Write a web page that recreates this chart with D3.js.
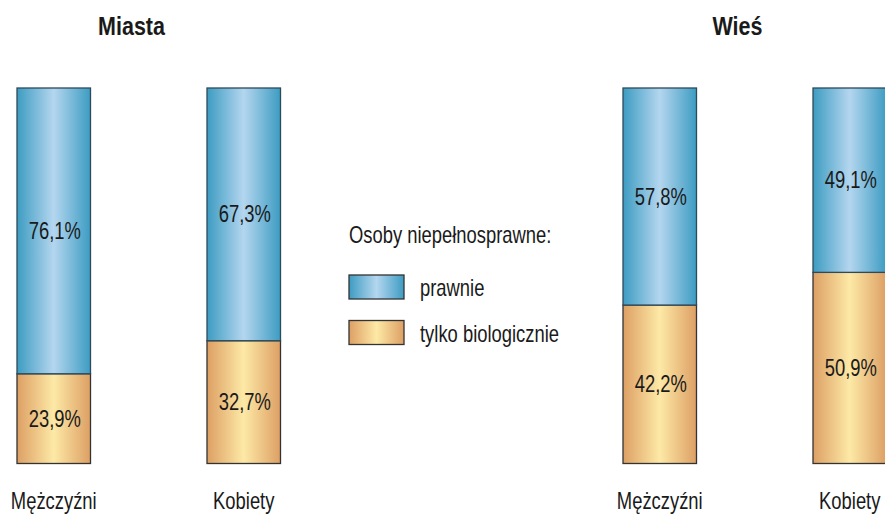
<!DOCTYPE html>
<html>
<head>
<meta charset="utf-8">
<script src="https://cdn.jsdelivr.net/npm/d3@7"></script>
<style>
  body { margin: 0; background: #fff; }
  text { font-family: "Liberation Sans Narrow", "Arial Narrow", "Liberation Sans", Arial, sans-serif; fill: #1a1a1a; }
</style>
</head>
<body>
<svg id="chart" width="885" height="514"></svg>
<script>
// data
var groups = ["Miasta", "Wieś"];
var genders = ["Mężczyźni", "Kobiety"];
var seriesNames = ["prawnie", "tylko biologicznie"];
var prawnie = [76.1, 67.3, 57.8, 49.1];       // Miasta M, Miasta K, Wieś M, Wieś K
var biologiczne = [23.9, 32.7, 42.2, 50.9];
var legendTitle = "Osoby niepełnosprawne:";

var svg = d3.select("#chart"),
    barW = 73.5,
    squeeze = 0.8;   // no narrow font installed, so squeeze a regular one

var x0 = d3.scalePoint().domain(groups).range([17, 623]);
var x1 = d3.scalePoint().domain(genders).range([0, 190]);
var y = d3.scaleLinear().domain([0, 100]).range([463.5, 88]);

var fmt = function(v) { return d3.format(".1f")(v).replace(".", ",") + "%"; };

// place a text at (x, y) with horizontal squeeze
function at(x, y, sx) {
    return "translate(" + x + "," + y + ") scale(" + (sx || squeeze) + ",1)";
}

// gradients
var defs = svg.append("defs");
function grad(id, edge, mid) {
    var g = defs.append("linearGradient").attr("id", id)
        .attr("x1", "0%").attr("x2", "100%").attr("y1", "0%").attr("y2", "0%");
    g.append("stop").attr("offset", "0%").attr("stop-color", edge);
    g.append("stop").attr("offset", "50%").attr("stop-color", mid);
    g.append("stop").attr("offset", "100%").attr("stop-color", edge);
}
grad("gBlue", "#3d9cc2", "#b4d6ef");
grad("gOrange", "#dd9f64", "#fde9a6");
var fills = ["url(#gBlue)", "url(#gOrange)"];

var rows = [];
groups.forEach(function(g, gi) {
    genders.forEach(function(s, si) {
        var i = gi * genders.length + si;
        rows.push({ group: g, gender: s, top: prawnie[i], bottom: biologiczne[i] });
    });
});

var bar = svg.selectAll("g.bar").data(rows).enter().append("g")
    .attr("class", "bar")
    .attr("transform", function(d) { return "translate(" + (x0(d.group) + x1(d.gender)) + ",0)"; });

// bottom segment (tylko biologicznie)
bar.append("rect")
    .attr("x", 0).attr("width", barW)
    .attr("y", function(d) { return y(d.bottom); })
    .attr("height", function(d) { return y(0) - y(d.bottom); })
    .attr("fill", fills[1]).attr("stroke", "#333").attr("stroke-width", 1.3);

// top segment (prawnie)
bar.append("rect")
    .attr("x", 0).attr("width", barW)
    .attr("y", function(d) { return y(d.bottom + d.top); })
    .attr("height", function(d) { return y(d.bottom) - y(d.bottom + d.top); })
    .attr("fill", fills[0]).attr("stroke", "#2d4a5a").attr("stroke-width", 1.3);

bar.append("text")
    .attr("transform", function(d) { return at(barW / 2 + 1, (y(d.bottom) + y(d.bottom + d.top)) / 2); })
    .attr("dy", "0.35em").attr("text-anchor", "middle")
    .style("font-size", "23px")
    .text(function(d) { return fmt(d.top); });

bar.append("text")
    .attr("transform", function(d) { return at(barW / 2 + 1, (y(0) + y(d.bottom)) / 2); })
    .attr("dy", "0.35em").attr("text-anchor", "middle")
    .style("font-size", "23px")
    .text(function(d) { return fmt(d.bottom); });

bar.append("text")
    .attr("transform", at(barW / 2, 509))
    .attr("text-anchor", "middle")
    .style("font-size", "23px")
    .text(function(d) { return d.gender; });

// group titles
svg.selectAll("text.title").data(groups).enter().append("text")
    .attr("class", "title")
    .attr("transform", function(d) { return at(x0(d) + 114.5, 35, 0.86); })
    .attr("text-anchor", "middle")
    .style("font-size", "25px").style("font-weight", "bold")
    .text(function(d) { return d; });

// legend
var legend = svg.append("g").attr("transform", "translate(349,0)");
legend.append("text").attr("transform", at(0, 235)).attr("dy", "0.35em")
    .style("font-size", "23px").text(legendTitle);

var item = legend.selectAll("g.item").data(seriesNames).enter().append("g")
    .attr("class", "item")
    .attr("transform", function(d, i) { return "translate(0," + (275 + i * 45.5) + ")"; });
item.append("rect").attr("width", 55).attr("height", 24)
    .attr("fill", function(d, i) { return fills[i]; })
    .attr("stroke", "#333").attr("stroke-width", 1.3);
item.append("text").attr("transform", at(71, 13)).attr("dy", "0.35em")
    .style("font-size", "23px").text(function(d) { return d; });
</script>
</body>
</html>
